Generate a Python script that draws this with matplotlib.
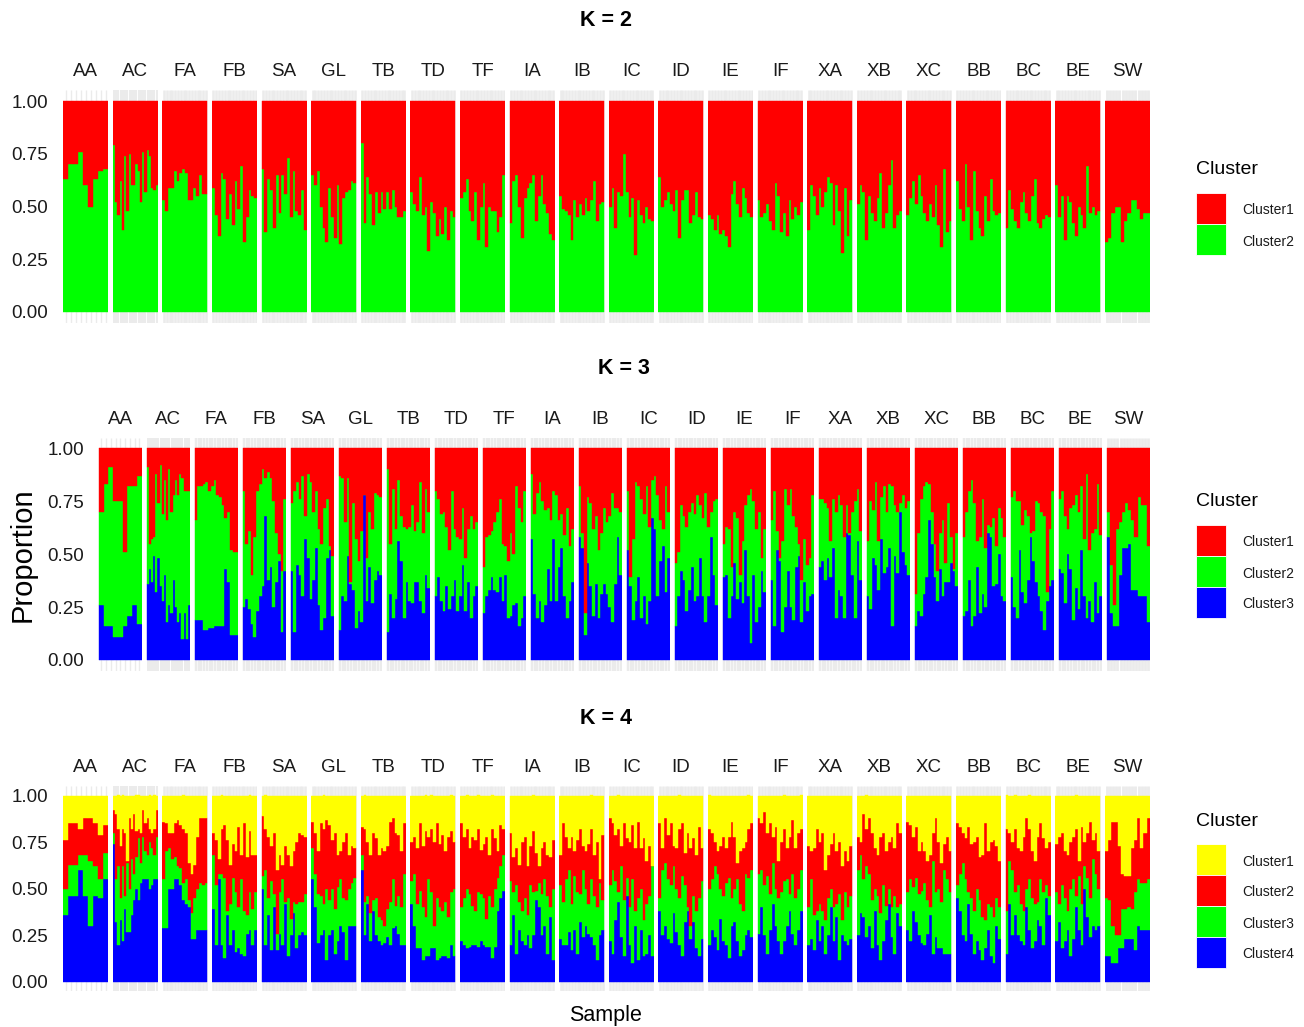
import numpy as np
import matplotlib
matplotlib.use("Agg")
import matplotlib.pyplot as plt
from matplotlib.patches import Rectangle

plt.rcParams['font.family'] = ['Liberation Sans', 'DejaVu Sans']

#####################       DATA (percent)        ##########################
pops = ["AA", "AC", "FA", "FB", "SA", "GL", "TB", "TD", "TF", "IA", "IB",
        "IC", "ID", "IE", "IF", "XA", "XB", "XC", "BB", "BC", "BE", "SW"]

#         K = 2 : Cluster2 share (Cluster1 is the rest)
k2_cluster2 = [
    [63,70,70,76,60,50,63,67,68],
    [79,52,46,62,39,74,48,75,60,60,70,67,52,76,57,77,74,59,58,60],
    [53,48,59,59,67,62,66,68,66,53,53,59,55,65,56,56],
    [59,46,36,66,63,44,56,41,62,49,69,33,45,58,55,54],
    [68,38,63,58,40,65,47,65,56,73,45,67,48,46,58,39],
    [65,60,67,50,40,33,59,45,35,60,32,54,57,58,62,61],
    [80,42,64,56,41,57,47,57,49,57,49,58,50,45,45,48],
    [57,51,48,64,46,50,29,52,47,36,44,37,50,34,48,45],
    [54,57,63,48,43,57,34,50,61,31,50,48,48,38,45,65],
    [42,62,65,50,35,54,59,61,65,43,55,65,51,47,37,34],
    [55,49,48,46,34,53,45,51,46,54,48,53,62,43,51,52],
    [50,59,40,57,55,75,57,45,54,27,53,46,42,50,44,43],
    [64,50,53,57,51,48,58,35,53,58,58,42,46,57,45,44],
    [46,44,39,46,37,39,36,31,56,62,51,45,59,54,47,45],
    [53,45,47,51,43,39,61,55,38,47,36,53,44,50,46,52],
    [39,60,55,46,59,50,57,64,61,41,60,48,28,59,36,53],
    [51,60,57,34,55,47,43,54,66,40,47,60,72,40,46,48],
    [46,54,62,51,65,55,47,43,51,45,60,41,31,68,38,43],
    [62,49,43,70,50,34,67,48,40,36,55,43,63,48,46,47],
    [40,58,49,43,40,52,57,47,43,55,63,42,40,44,46,45],
    [60,45,55,34,55,52,42,36,50,46,40,69,47,50,46,48],
    [33,35,47,50,50,33,43,47,53,53,49,44,47,47],
]

#         K = 3 : Cluster3 (bottom) and Cluster1 (top); Cluster2 is the rest
k3_cluster3 = [
    [26,16,16,11,11,16,21,26,17],
    [36,43,37,49,32,48,35,28,40,18,26,22,38,25,18,22,10,22,10,26],
    [19,19,19,14,14,15,15,16,16,16,16,43,37,12,12,12],
    [25,29,24,17,11,23,30,35,68,38,44,25,37,47,13,42],
    [42,13,45,40,30,57,48,29,38,53,26,14,20,48,52,21],
    [14,30,28,49,36,33,15,23,18,78,28,44,27,38,42,40],
    [13,31,20,29,56,47,20,37,28,27,37,37,28,22,40,34],
    [30,39,28,23,35,24,30,38,23,30,45,23,37,20,30,35],
    [22,30,33,39,33,32,39,28,40,20,21,26,27,16,20,30],
    [57,31,20,28,18,26,43,28,57,28,44,53,30,20,28,37],
    [58,53,12,46,35,21,36,20,31,36,31,25,18,36,58,40],
    [52,35,19,28,39,20,30,17,28,67,62,30,47,54,32,48],
    [16,30,42,38,23,33,44,28,30,48,30,18,30,58,40,26],
    [39,40,20,30,46,29,37,27,52,30,8,40,18,25,42,32],
    [38,16,52,47,13,25,42,25,19,44,49,18,37,23,30,31],
    [44,47,38,48,39,53,20,33,30,20,60,59,40,20,56,38],
    [30,24,48,45,33,57,41,44,53,16,49,41,70,51,45,40],
    [16,23,21,31,39,66,55,39,28,43,30,37,37,46,42,35],
    [21,23,38,16,21,44,22,31,25,60,58,35,36,50,30,28],
    [39,25,20,52,32,27,38,58,47,37,30,23,14,28,35,38],
    [43,41,27,50,43,19,34,24,52,30,20,28,18,37,22,30],
    [58,22,16,16,40,53,53,55,33,33,30,30,30,18],
]
k3_cluster1 = [
    [30,17,9,25,25,49,18,18,13],
    [9,45,43,42,12,26,8,31,15,34,10,30,22,15,22,12,14,20,20,20],
    [34,18,18,17,16,20,18,15,22,23,27,33,30,48,49,49],
    [20,45,39,60,42,20,17,10,14,11,14,25,40,50,58,24],
    [26,20,16,24,13,32,12,16,30,20,38,45,28,24,46,51],
    [13,14,35,14,63,26,43,53,39,22,52,30,38,21,22,23],
    [10,45,19,38,15,32,37,38,37,27,39,35,16,40,19,30],
    [20,24,31,30,37,48,20,38,42,43,28,52,38,32,38,35],
    [56,42,41,39,35,30,24,45,46,53,40,50,18,28,35,20],
    [12,31,21,16,25,29,28,34,20,22,34,31,41,28,46,38],
    [18,40,78,23,26,38,32,48,40,28,35,32,21,28,28,30],
    [20,61,43,16,18,24,31,18,37,15,13,22,34,38,18,30],
    [54,49,27,32,37,30,26,31,22,27,33,21,37,30,25,24],
    [45,37,38,56,30,33,60,44,27,22,19,25,38,30,52,38],
    [34,20,39,52,44,19,27,19,32,37,45,62,43,55,52,22],
    [24,24,26,28,44,24,30,22,27,42,27,40,30,25,19,39],
    [44,25,29,16,44,23,18,30,17,18,27,30,26,22,28,25],
    [69,40,24,18,16,17,30,45,58,40,34,54,26,42,57,40],
    [42,30,20,15,26,44,42,24,47,36,37,33,46,28,33,42],
    [23,20,25,25,36,29,32,40,39,25,26,30,32,68,38,20],
    [24,20,32,38,28,27,22,30,18,43,12,48,40,38,17,41],
    [30,55,74,38,35,30,26,29,34,42,23,27,27,46],
]

#         K = 4 : Cluster4 (bottom), Cluster3, Cluster1 (top); Cluster2 is the rest
k4_cluster4 = [
    [36,46,46,60,46,30,46,45,55],
    [74,32,20,33,22,39,27,27,36,44,50,44,53,55,55,55,50,52,55,55],
    [29,29,50,50,55,55,52,44,42,40,23,23,28,28,28,28],
    [39,20,55,20,13,36,20,28,16,18,15,14,26,28,20,28],
    [50,20,36,17,40,17,26,20,42,14,25,37,18,25,27,25],
    [55,40,21,25,28,12,25,28,15,22,30,27,12,30,30,30],
    [60,25,42,22,38,25,22,20,21,24,20,29,30,26,20,20],
    [42,30,18,18,12,14,14,18,18,12,13,14,14,13,20,14],
    [22,20,18,19,20,20,19,22,20,19,19,13,19,38,45,49],
    [20,36,15,28,22,20,25,18,25,44,40,25,30,15,35,12],
    [23,20,20,27,17,28,15,32,24,30,26,24,20,12,25,28],
    [22,15,33,43,24,14,46,20,10,30,12,28,14,15,25,14],
    [38,25,30,23,21,37,27,20,14,32,38,23,32,18,14,23],
    [20,28,24,17,34,22,20,13,30,32,22,14,17,25,28,24],
    [26,40,25,15,28,42,30,22,15,22,30,38,26,20,28,38],
    [20,23,17,33,22,30,15,25,40,22,35,12,25,22,20,23],
    [25,37,35,24,30,18,38,20,12,22,33,42,24,15,37,30],
    [28,22,38,32,25,21,20,26,36,15,24,18,18,15,15,15],
    [45,38,25,22,42,26,15,22,17,12,18,28,14,10,30,23],
    [15,42,25,36,25,22,20,40,28,18,22,33,30,20,45,36],
    [22,32,18,22,28,14,23,40,28,20,50,35,24,30,28,30],
    [14,14,10,10,18,18,23,23,23,17,30,28,28,28],
]
k4_cluster3 = [
    [14,17,17,8,22,35,16,10,14],
    [6,23,42,12,40,7,37,23,30,14,17,33,11,23,15,13,25,20,13,23],
    [26,41,22,16,12,7,9,9,13,4,14,22,22,25,24,25],
    [29,32,3,38,43,2,22,28,32,22,40,24,10,20,19,20],
    [7,40,9,37,7,9,22,35,1,31,9,6,24,18,16,22],
    [17,18,26,21,14,38,19,22,24,29,25,18,32,20,23,26],
    [8,18,4,15,6,20,13,13,9,15,23,26,11,20,20,38],
    [12,28,24,31,28,21,41,30,12,33,27,24,29,22,28,36],
    [18,25,32,28,21,18,29,25,25,15,27,27,31,18,17,19],
    [34,12,37,15,16,25,11,34,23,5,13,22,25,31,5,38],
    [29,23,35,33,25,29,33,15,36,20,16,31,26,28,28,16],
    [30,45,21,5,38,30,10,20,45,8,33,22,19,27,21,49],
    [7,35,34,32,31,25,23,25,43,20,2,7,14,20,31,31],
    [30,27,38,41,16,24,33,43,15,18,33,28,21,33,28,36],
    [32,20,27,42,19,22,20,23,33,32,25,9,32,25,22,22],
    [20,32,19,5,20,8,18,20,10,18,7,35,8,26,20,23],
    [35,31,20,38,28,26,12,26,25,30,8,8,16,31,3,12],
    [20,33,13,24,22,28,33,18,4,50,24,32,25,45,40,33],
    [7,20,39,33,6,19,23,28,27,23,15,14,26,25,15,17],
    [23,23,35,12,27,20,18,10,27,27,20,10,25,28,7,10],
    [26,10,34,23,10,36,32,6,29,22,12,21,21,36,30,20],
    [31,30,20,15,7,21,16,17,16,31,25,25,25,27],
]
k4_cluster1 = [
    [24,15,15,18,12,12,15,21,16],
    [8,10,18,27,18,20,35,12,18,10,19,18,20,8,15,12,18,20,18,8],
    [14,15,20,20,15,13,16,18,20,36,42,37,22,12,12,12],
    [20,24,34,18,16,24,37,26,30,17,32,15,33,19,32,32],
    [11,18,22,27,20,40,32,37,27,32,38,30,25,20,21,22],
    [14,20,30,15,18,13,16,24,20,32,30,25,20,32,27,28],
    [17,18,25,32,20,23,32,28,30,27,14,12,20,21,30,15],
    [25,22,28,15,27,19,22,18,25,15,26,21,30,22,19,25],
    [15,22,18,28,22,24,18,29,26,22,32,18,23,30,16,18],
    [20,33,28,37,25,22,38,27,19,31,38,28,25,32,33,24],
    [32,15,22,28,22,30,24,18,27,30,26,18,32,25,45,21],
    [12,15,21,18,27,15,23,25,16,28,14,28,23,35,27,38],
    [15,28,12,21,15,27,28,18,15,31,20,28,23,32,17,28],
    [18,20,25,30,27,22,28,22,14,22,36,30,28,25,18,15],
    [12,15,9,20,15,22,17,35,25,18,28,22,13,28,20,18],
    [27,30,28,18,25,20,40,32,26,20,30,25,38,30,35,27],
    [22,25,10,18,12,20,28,32,22,20,30,25,22,28,15,20],
    [14,16,22,17,30,25,30,35,32,20,12,25,36,26,22,30],
    [15,17,20,23,17,26,25,22,33,32,15,30,25,24,27,35],
    [18,20,25,18,28,30,22,12,18,30,35,22,15,23,28,25],
    [26,22,20,30,32,25,22,18,35,17,25,20,14,24,20,30],
    [30,24,14,14,27,42,43,43,28,24,12,28,20,12],
]

RED, GREEN, BLUE, YELLOW = "#FF0000", "#00FF00", "#0000FF", "#FFFF00"

#####################         LAYOUT (pixels)          ######################
W, H = 1304, 1027
fig = plt.figure(figsize=(W / 100, H / 100), dpi=100)

def fx(x):
    return x / W

def fy(y):
    return 1 - y / H

def label(x, y, s, **kw):
    # matplotlib centres on the full line box; nudge down to match the glyphs
    fig.text(fx(x), fy(y + 2), s, va="center", **kw)

def stacked_layers(i, k):
    # list of (values, colour) from bottom to top, as proportions
    if k == 2:
        g = np.array(k2_cluster2[i]) / 100
        return [(g, GREEN), (1 - g, RED)]
    if k == 3:
        b = np.array(k3_cluster3[i]) / 100
        r = np.array(k3_cluster1[i]) / 100
        return [(b, BLUE), (1 - b - r, GREEN), (r, RED)]
    b = np.array(k4_cluster4[i]) / 100
    g = np.array(k4_cluster3[i]) / 100
    y = np.array(k4_cluster1[i]) / 100
    return [(b, BLUE), (g, GREEN), (1 - b - g - y, RED), (y, YELLOW)]

panels = [
    # K, left, step, width, y(1.0), y(0.0), title x, title y, strip y, tick x
    (2, 63.0, 49.6, 45.5, 101.0, 312.0, 606, 19, 69, 48),
    (3, 98.3, 48.0, 44.0, 448.3, 660.0, 624, 367, 417, 84),
    (4, 63.0, 49.6, 45.5, 795.5, 982.0, 606, 716, 765, 48),
]

for k, left, step, wid, y1, y0, tx, ty, sy, tkx in panels:
    unit = y0 - y1
    ytop = y1 - 0.05 * unit
    ybot = y0 + 0.05 * unit
    for i, pop in enumerate(pops):
        x0 = left + i * step
        ax = fig.add_axes([fx(x0), fy(ybot), wid / W, (ybot - ytop) / H])
        layers = stacked_layers(i, k)
        n = len(layers[0][0])
        for vals, _ in layers:
            assert len(vals) == n, (k, pop)
        xs = np.arange(n)
        # vertical grid lines, one per sample, seen above and below the bars
        spacing_pt = wid / (n + 0.2) * 0.72
        lw = 1.0 if n < 12 else spacing_pt * 0.9
        ax.vlines(xs, -0.05, 1.05, color="#EBEBEB", lw=lw, zorder=0)
        bottom = np.zeros(n)
        for vals, col in layers:
            ax.bar(xs, vals, bottom=bottom, width=1.0, color=col,
                   edgecolor=col, linewidth=0.3, zorder=2)
            bottom = bottom + vals
        ax.set_xlim(-0.6, n - 0.4)
        ax.set_ylim(-0.05, 1.05)
        ax.axis("off")
        label(x0 + wid / 2, sy, pop, ha="center", fontsize=13.5,
              color="#1A1A1A")
    # y tick labels
    for v in [0.0, 0.25, 0.5, 0.75, 1.0]:
        label(tkx, y0 - v * unit, f"{v:.2f}", ha="right", fontsize=13.5,
              color="#1A1A1A")
    label(tx, ty, f"K = {k}", ha="center", fontsize=15.5,
          fontweight="bold", color="black")

#####################         LEGENDS          #############################
legends = [
    (168, 193, [RED, GREEN]),
    (500, 525, [RED, GREEN, BLUE]),
    (819, 844, [YELLOW, RED, GREEN, BLUE]),
]
for title_y, key_y, cols in legends:
    label(1196, title_y, "Cluster", ha="left", fontsize=14, color="black")
    for j, col in enumerate(cols):
        yk = key_y + j * 31
        fig.add_artist(Rectangle((fx(1196), fy(yk + 31)), 30 / W, 31 / H,
                                 transform=fig.transFigure, facecolor=col,
                                 edgecolor="white", linewidth=0.6))
        label(1242, yk + 15.5, f"Cluster{j + 1}", ha="left", fontsize=10,
              color="#1A1A1A")

fig.text(fx(23), fy(555), "Proportion", rotation=90, ha="center",
         va="center", fontsize=21, color="black")
label(606, 1014, "Sample", ha="center", fontsize=15.5, color="black")

fig.savefig("out.png", dpi=100, facecolor="white")
